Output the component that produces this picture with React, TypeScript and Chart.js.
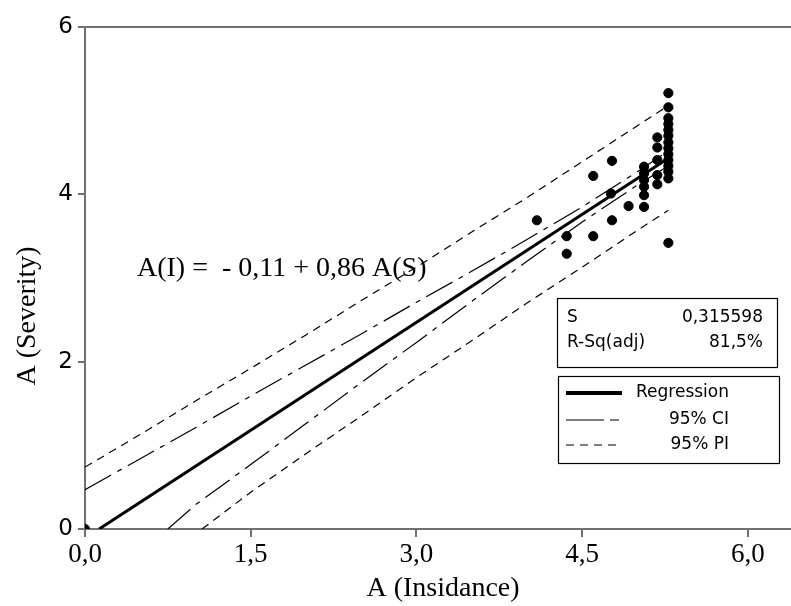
import React, { useEffect, useRef } from 'react';
import { Chart, registerables } from 'chart.js';

Chart.register(...registerables);

// Observed data (A(Insidance), A(Severity))
const obsX = [0, 4.09, 4.36, 4.36, 4.6, 4.6, 4.77, 4.76, 4.77, 4.92,
  5.06, 5.06, 5.06, 5.06, 5.06, 5.06,
  5.18, 5.18, 5.18, 5.18, 5.18,
  5.28, 5.28, 5.28, 5.28, 5.28, 5.28, 5.28, 5.28, 5.28, 5.28, 5.28, 5.28, 5.28, 5.28];
const obsY = [0, 3.69, 3.5, 3.29, 4.22, 3.5, 4.4, 4.01, 3.69, 3.86,
  4.33, 4.25, 4.17, 4.09, 3.99, 3.85,
  4.68, 4.56, 4.41, 4.23, 4.12,
  5.21, 5.04, 4.91, 4.84, 4.77, 4.7, 4.62, 4.55, 4.48, 4.41, 4.34, 4.27, 4.19, 3.42];

// Fitted line and bands
const regX = [0.128, 5.28];
const regY = [0, 4.43];
const ciUpperX = [0, 0.5, 1, 1.5, 2, 2.5, 3, 3.5, 4, 4.5, 5, 5.28];
const ciUpperY = [0.47, 0.84, 1.21, 1.59, 1.96, 2.33, 2.71, 3.08, 3.46, 3.85, 4.27, 4.52];
const ciLowerX = [0.75, 1, 1.5, 2, 2.5, 3, 3.5, 4, 4.5, 5, 5.28];
const ciLowerY = [0, 0.29, 0.77, 1.26, 1.75, 2.23, 2.72, 3.2, 3.67, 4.11, 4.34];
const piUpperX = [0, 0.5, 1, 1.5, 2, 2.5, 3, 3.5, 4, 4.5, 5, 5.28];
const piUpperY = [0.74, 1.13, 1.53, 1.92, 2.32, 2.73, 3.13, 3.55, 3.96, 4.39, 4.82, 5.06];
const piLowerX = [1.06, 1.5, 2, 2.5, 3, 3.5, 4, 4.5, 5, 5.28];
const piLowerY = [0, 0.44, 0.9, 1.35, 1.81, 2.25, 2.7, 3.13, 3.57, 3.81];

const xTickValues = [0, 1.5, 3, 4.5, 6];
const xTickLabels = ['0,0', '1,5', '3,0', '4,5', '6,0'];
const yTickValues = [0, 2, 4, 6];
const yTickLabels = ['0', '2', '4', '6'];

const xTitle = 'A (Insidance)';
const yTitle = 'A (Severity)';
const equationText = 'A(I) =  - 0,11 + 0,86 A(S)';
const statLabels = ['S', 'R-Sq(adj)'];
const statValues = ['0,315598', '81,5%'];
const legendLabels = ['Regression', '95% CI', '95% PI'];

const SERIF = '"Liberation Serif", "Times New Roman", serif';
const SANS = '"DejaVu Sans", Verdana, sans-serif';
const AXIS = '#707070';
const CI_DASH = [30, 7, 5, 7];
const PI_DASH = [8, 6];

const pts = (xs: number[], ys: number[]) => xs.map((x, i) => ({ x, y: ys[i] }));

const overlay = {
  id: 'overlay',
  afterDraw(chart: any) {
    const { ctx, chartArea } = chart;
    ctx.save();
    // top frame line
    ctx.strokeStyle = AXIS;
    ctx.lineWidth = 2;
    ctx.beginPath();
    ctx.moveTo(chartArea.left, chartArea.top);
    ctx.lineTo(chartArea.right, chartArea.top);
    ctx.stroke();

    // axis titles
    ctx.fillStyle = '#000';
    ctx.font = '28px ' + SERIF;
    ctx.textAlign = 'center';
    ctx.textBaseline = 'middle';
    ctx.fillText(xTitle, 443, 589);
    ctx.save();
    ctx.translate(28, 316);
    ctx.rotate(-Math.PI / 2);
    ctx.fillText(yTitle, 0, 0);
    ctx.restore();

    // equation
    ctx.font = '28px ' + SERIF;
    ctx.textBaseline = 'alphabetic';
    ctx.textAlign = 'left';
    ctx.fillText(equationText, 137, 276);

    // stats box
    ctx.strokeStyle = '#000';
    ctx.lineWidth = 1.2;
    ctx.fillStyle = '#fff';
    ctx.fillRect(557, 298, 220, 69);
    ctx.strokeRect(557.5, 298.5, 220, 69);
    ctx.fillStyle = '#000';
    ctx.font = '17px ' + SANS;
    ctx.textBaseline = 'middle';
    statLabels.forEach((t, i) => {
      ctx.textAlign = 'left';
      ctx.fillText(t, 567, 318 + i * 25);
      ctx.textAlign = 'right';
      ctx.fillText(statValues[i], 763, 318 + i * 25);
    });

    // legend box
    ctx.fillStyle = '#fff';
    ctx.fillRect(558, 376, 221, 87);
    ctx.strokeRect(558.5, 376.5, 221, 87);
    const rows = [393, 420, 445];
    const styles: { w: number; dash: number[] }[] = [
      { w: 4, dash: [] },
      { w: 1.2, dash: [38, 6, 9, 100] },
      { w: 1.2, dash: [8, 6] },
    ];
    rows.forEach((y, i) => {
      ctx.strokeStyle = '#000';
      ctx.lineWidth = styles[i].w;
      ctx.setLineDash(styles[i].dash);
      ctx.beginPath();
      ctx.moveTo(566, y);
      ctx.lineTo(622, y);
      ctx.stroke();
      ctx.setLineDash([]);
      ctx.fillStyle = '#000';
      ctx.textAlign = 'right';
      ctx.fillText(legendLabels[i], 729, y);
    });
    ctx.restore();
  },
};

export default function App() {
  const ref = useRef<HTMLCanvasElement>(null);
  useEffect(() => {
    if (!ref.current) return;
    const lineDs = (data: any[], width: number, dash: number[]) => ({
      type: 'scatter' as const,
      data,
      showLine: true,
      borderColor: '#000',
      borderWidth: width,
      borderDash: dash,
      pointRadius: 0,
      tension: 0,
      fill: false,
      order: 1,
    });
    const chart = new Chart(ref.current, {
      type: 'scatter',
      data: {
        datasets: [
          {
            data: pts(obsX, obsY),
            pointRadius: 4.6,
            pointBackgroundColor: '#000',
            pointBorderColor: '#000',
            showLine: false,
            order: 0,
          } as any,
          lineDs(pts(regX, regY), 3, []),
          lineDs(pts(ciUpperX, ciUpperY), 1.2, CI_DASH),
          lineDs(pts(ciLowerX, ciLowerY), 1.2, CI_DASH),
          lineDs(pts(piUpperX, piUpperY), 1.2, PI_DASH),
          lineDs(pts(piLowerX, piLowerY), 1.2, PI_DASH),
        ],
      },
      options: {
        responsive: false,
        animation: false,
        layout: { autoPadding: false, padding: { top: 27, right: 0, left: 0, bottom: 0 } },
        plugins: { legend: { display: false }, tooltip: { enabled: false } },
        scales: {
          x: {
            type: 'linear',
            min: 0,
            max: 6.39,
            afterBuildTicks: (s: any) => {
              s.ticks = xTickValues.map((v) => ({ value: v }));
            },
            afterFit: (s: any) => {
              s.height = 77;
              s.paddingRight = 0;
              s.paddingLeft = 0;
            },
            grid: { display: true, drawOnChartArea: false, drawTicks: true, tickLength: 8, color: AXIS, lineWidth: 2 },
            border: { display: true, color: AXIS, width: 2 },
            ticks: {
              color: '#000',
              font: { family: SERIF, size: 27 },
              padding: 2,
              maxRotation: 0,
              autoSkip: false,
              callback: (v: any) => {
                const i = xTickValues.indexOf(Number(v));
                return i >= 0 ? xTickLabels[i] : '';
              },
            },
          },
          y: {
            type: 'linear',
            min: 0,
            max: 6,
            afterBuildTicks: (s: any) => {
              s.ticks = yTickValues.map((v) => ({ value: v }));
            },
            afterFit: (s: any) => {
              s.width = 85;
            },
            grid: { display: true, drawOnChartArea: false, drawTicks: true, tickLength: 7, color: AXIS, lineWidth: 2 },
            border: { display: true, color: AXIS, width: 2 },
            ticks: {
              color: '#000',
              font: { family: SANS, size: 23 },
              padding: 5,
              autoSkip: false,
              callback: (v: any) => {
                const i = yTickValues.indexOf(Number(v));
                return i >= 0 ? yTickLabels[i] : '';
              },
            },
          },
        },
      },
      plugins: [overlay],
    } as any);
    return () => chart.destroy();
  }, []);
  return (
    <div style={{ position: 'fixed', left: 0, top: 0, width: 791, height: 606, background: '#fff' }}>
      <canvas ref={ref} width={791} height={606} />
    </div>
  );
}
